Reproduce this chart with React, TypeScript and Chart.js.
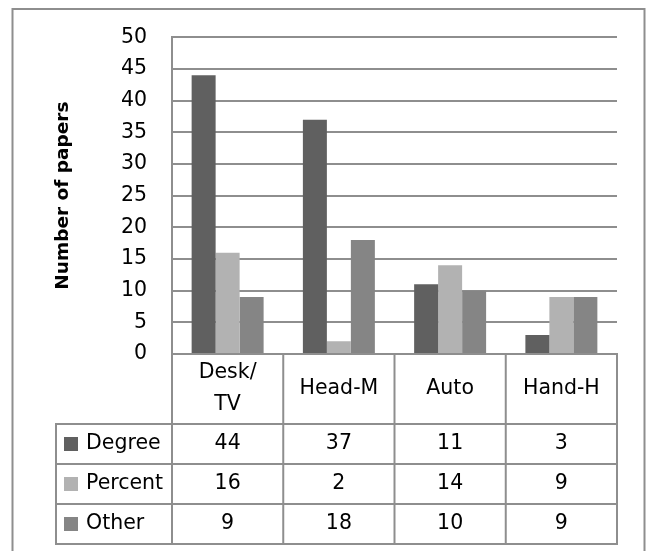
import { useEffect, useRef } from "react";
import { Chart, registerables } from "chart.js";

Chart.register(...registerables);

// ---- data ----
const categories = ["Desk/TV", "Head-M", "Auto", "Hand-H"];
const categoryLines = [["Desk/", "TV"], ["Head-M"], ["Auto"], ["Hand-H"]];
const seriesNames = ["Degree", "Percent", "Other"];
const degreeValues = [44, 37, 11, 3];
const percentValues = [16, 2, 14, 9];
const otherValues = [9, 18, 10, 9];
const yTitle = "Number of papers";
const yMin = 0;
const yMax = 50;
const yStep = 5;

// ---- styles ----
const seriesColors = ["#606060", "#b2b2b2", "#858585"];
const LINE = "#8e8e8e";
const FONT = "DejaVu Sans";
const FONT_SIZE = 20.5;

const tablePlugin = {
  id: "dataTable",
  beforeDraw(chart: any) {
    const { ctx, width, height } = chart;
    ctx.save();
    ctx.fillStyle = "#ffffff";
    ctx.fillRect(0, 0, width, height);
    ctx.restore();
  },
  afterDraw(chart: any) {
    const { ctx, chartArea } = chart;
    const xs = chart.scales.x;
    const n = categories.length;
    const colW = (chartArea.right - chartArea.left) / n;
    const top = chartArea.bottom;
    const headH = 70;
    const rowH = 40;
    const legendLeft = 56;
    const rowsTop = top + headH;
    const allSeries = [degreeValues, percentValues, otherValues];
    const bottom = rowsTop + rowH * allSeries.length;

    ctx.save();
    ctx.strokeStyle = LINE;
    ctx.lineWidth = 2;
    const line = (x1: number, y1: number, x2: number, y2: number) => {
      ctx.beginPath();
      ctx.moveTo(x1, y1);
      ctx.lineTo(x2, y2);
      ctx.stroke();
    };
    line(chartArea.left, top, chartArea.right + 1, top);
    for (let r = 0; r <= allSeries.length; r++) {
      line(legendLeft - 1, rowsTop + r * rowH, chartArea.right + 1, rowsTop + r * rowH);
    }
    line(legendLeft, rowsTop, legendLeft, bottom);
    for (let i = 0; i < n; i++) {
      const bx = xs.getPixelForValue(i) - colW / 2;
      line(bx, top, bx, bottom);
    }
    const lastX = xs.getPixelForValue(n - 1) + colW / 2;
    line(lastX, top, lastX, bottom);

    // header labels
    ctx.fillStyle = "#000";
    ctx.font = `${FONT_SIZE}px "${FONT}"`;
    ctx.textAlign = "center";
    ctx.textBaseline = "middle";
    const lh = 32;
    for (let i = 0; i < n; i++) {
      const cx = xs.getPixelForValue(i);
      const lines = categoryLines[i];
      const cy = top + headH / 2;
      lines.forEach((t, k) => {
        ctx.fillText(t, cx, cy + (k - (lines.length - 1) / 2) * lh);
      });
    }

    // data rows
    allSeries.forEach((vals, r) => {
      const cy = rowsTop + r * rowH + rowH / 2;
      ctx.fillStyle = seriesColors[r];
      ctx.fillRect(64, cy - 7, 14, 14);
      ctx.fillStyle = "#000";
      ctx.textAlign = "left";
      ctx.fillText(seriesNames[r], 86, cy);
      ctx.textAlign = "center";
      vals.forEach((v, i) => {
        ctx.fillText(String(v), xs.getPixelForValue(i), cy);
      });
    });

    // outer frame
    ctx.strokeStyle = LINE;
    ctx.lineWidth = 2;
    ctx.strokeRect(12.5, 9, 632, 600);
    ctx.restore();
  },
};

export default function App() {
  const ref = useRef<HTMLCanvasElement | null>(null);

  useEffect(() => {
    if (!ref.current) return;
    const chart = new Chart(ref.current, {
      type: "bar",
      data: {
        labels: categories,
        datasets: [
          { label: seriesNames[0], data: degreeValues, backgroundColor: seriesColors[0] },
          { label: seriesNames[1], data: percentValues, backgroundColor: seriesColors[1] },
          { label: seriesNames[2], data: otherValues, backgroundColor: seriesColors[2] },
        ],
      },
      options: {
        responsive: false,
        animation: false,
        devicePixelRatio: 1,
        layout: { padding: { left: 48, top: 36, right: 33, bottom: 197 } },
        datasets: { bar: { categoryPercentage: 0.647, barPercentage: 1.0, borderWidth: 0 } },
        plugins: {
          legend: { display: false },
          tooltip: { enabled: false },
          title: { display: false },
        },
        scales: {
          x: {
            display: false,
            offset: true,
            grid: { display: false },
          },
          y: {
            min: yMin,
            max: yMax,
            ticks: {
              stepSize: yStep,
              color: "#000",
              padding: 25,
              font: { family: FONT, size: FONT_SIZE },
            },
            grid: { color: LINE, lineWidth: 2, drawTicks: false },
            border: { display: true, color: LINE, width: 2 },
            title: {
              display: true,
              text: yTitle,
              color: "#000",
              font: { family: FONT, size: 18.5, weight: "bold" },
              padding: { top: 4, bottom: 4 },
            },
            afterFit: (s: any) => {
              s.width = 124;
            },
          },
        },
      },
      plugins: [tablePlugin],
    } as any);
    return () => chart.destroy();
  }, []);

  return (
    <div style={{ position: "absolute", left: 0, top: 0, width: 650, height: 551 }}>
      <canvas ref={ref} width={650} height={551} style={{ display: "block", width: 650, height: 551 }} />
    </div>
  );
}
